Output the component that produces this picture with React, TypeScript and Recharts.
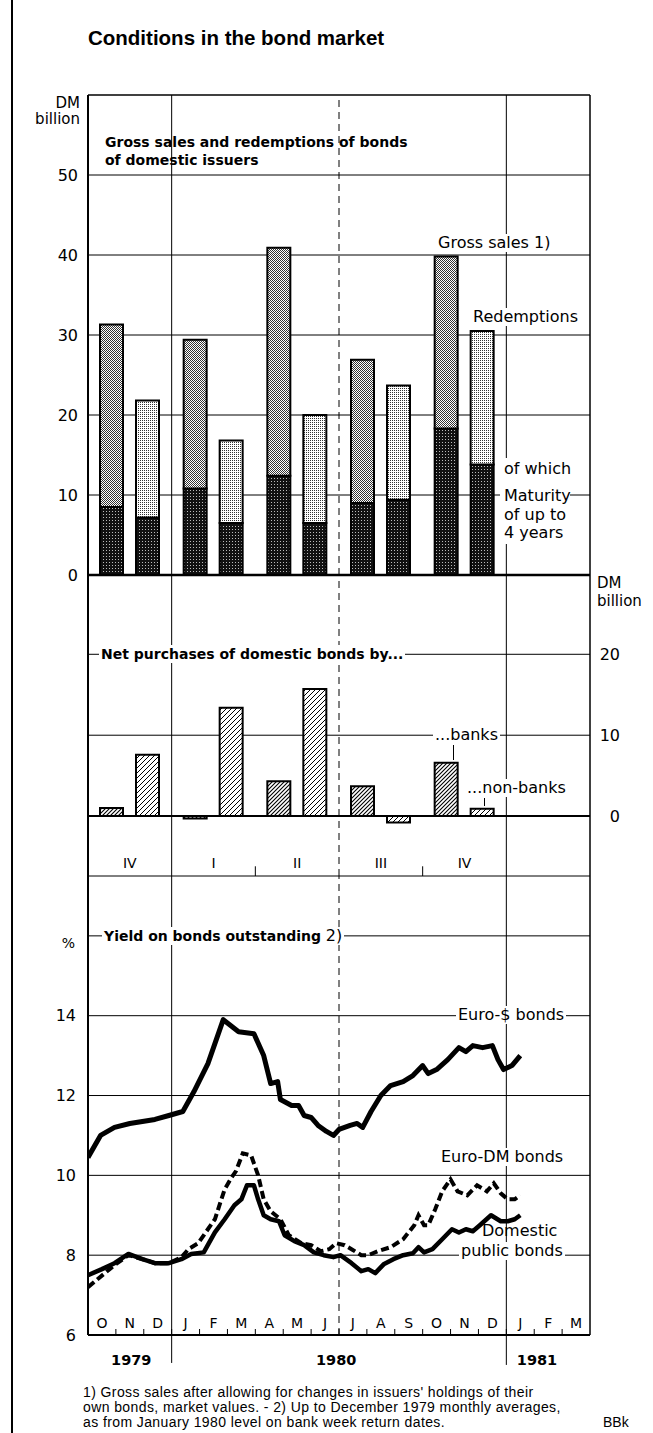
import React from "react";
import { BarChart, Bar, LineChart, Line, XAxis, YAxis, CartesianGrid, ReferenceLine } from "recharts";

const FONT = "'DejaVu Sans', sans-serif";
const W = 653;
const PLOT_LEFT = 88;
const PLOT_RIGHT = 590;

// quarters: IV 1979, I-IV 1980, I 1981 (empty); mid-quarter in months from 1 Oct 1979
const quarterLabels = ["IV", "I", "II", "III", "IV", ""];
const quarterMid = [1.5, 4.5, 7.5, 10.5, 13.5, 16.5];
const grossSales = [31.3, 29.4, 40.9, 26.9, 39.8, null];
const grossShortMaturity = [8.5, 10.8, 12.4, 9.0, 18.3, null];
const redemptions = [21.8, 16.8, 20.0, 23.7, 30.5, null];
const redemptionsShortMaturity = [7.2, 6.5, 6.5, 9.4, 13.8, null];
const netBanks = [1.0, -0.3, 4.3, 3.7, 6.6, null];
const netNonBanks = [7.6, 13.4, 15.7, -0.8, 0.9, null];

const monthLetters = ["O", "N", "D", "J", "F", "M", "A", "M", "J", "J", "A", "S", "O", "N", "D", "J", "F", "M"];
const yearLabels = ["1979", "1980", "1981"];
const yearMid = [1.55, 8.9, 16.1];

// time in months from 1 Oct 1979
const euroDollarMonth = [0, 0.45, 0.95, 1.5, 2.4, 2.9, 3.4, 3.8, 4.3, 4.75, 4.85, 5.4, 5.95, 6.3, 6.55, 6.8, 6.9, 7.3, 7.55, 7.75, 8.0, 8.25, 8.55, 8.8, 9.0, 9.4, 9.65, 9.85, 10.15, 10.5, 10.85, 11.3, 11.65, 12.0, 12.2, 12.5, 12.9, 13.3, 13.55, 13.8, 14.15, 14.5, 14.7, 14.9, 15.2, 15.5];
const euroDollarYield = [10.45, 11.0, 11.2, 11.3, 11.4, 11.5, 11.6, 12.1, 12.8, 13.7, 13.9, 13.6, 13.55, 13.0, 12.3, 12.35, 11.9, 11.75, 11.75, 11.5, 11.45, 11.25, 11.1, 11.0, 11.15, 11.25, 11.3, 11.2, 11.6, 12.0, 12.25, 12.35, 12.5, 12.75, 12.55, 12.65, 12.9, 13.2, 13.1, 13.25, 13.2, 13.25, 12.9, 12.65, 12.75, 13.0];

const euroDmMonth = [0, 0.95, 1.45, 1.95, 2.4, 2.9, 3.35, 3.6, 3.95, 4.55, 4.9, 5.15, 5.3, 5.55, 5.85, 6.1, 6.3, 6.55, 6.9, 7.2, 7.65, 8.0, 8.35, 8.65, 8.9, 9.2, 9.45, 9.8, 10.05, 10.4, 10.85, 11.3, 11.7, 11.85, 12.05, 12.2, 12.45, 12.7, 13.0, 13.25, 13.6, 13.95, 14.3, 14.55, 14.8, 15.05, 15.3, 15.5];
const euroDmYield = [7.2, 7.75, 8.0, 7.9, 7.8, 7.8, 7.95, 8.15, 8.3, 8.9, 9.65, 9.95, 10.1, 10.55, 10.5, 10.0, 9.4, 9.1, 8.9, 8.5, 8.3, 8.25, 8.1, 8.15, 8.3, 8.25, 8.15, 8.0, 8.0, 8.1, 8.2, 8.4, 8.75, 9.0, 8.75, 8.75, 9.15, 9.6, 9.9, 9.6, 9.5, 9.75, 9.6, 9.8, 9.55, 9.4, 9.4, 9.5];

const domesticMonth = [0, 0.5, 0.95, 1.45, 1.95, 2.4, 2.9, 3.35, 3.7, 4.15, 4.55, 4.9, 5.25, 5.5, 5.7, 5.95, 6.1, 6.3, 6.55, 6.85, 7.05, 7.4, 7.75, 8.1, 8.45, 8.8, 9.05, 9.45, 9.8, 10.05, 10.3, 10.6, 10.95, 11.3, 11.65, 11.85, 12.05, 12.35, 12.7, 13.05, 13.3, 13.55, 13.8, 14.05, 14.45, 14.8, 15.05, 15.3, 15.5];
const domesticYield = [7.5, 7.65, 7.8, 8.03, 7.9, 7.8, 7.8, 7.9, 8.03, 8.07, 8.57, 8.9, 9.25, 9.4, 9.75, 9.75, 9.4, 9.0, 8.9, 8.85, 8.5, 8.35, 8.25, 8.07, 8.0, 7.95, 8.0, 7.8, 7.6, 7.65, 7.55, 7.77, 7.9, 8.0, 8.05, 8.2, 8.07, 8.15, 8.4, 8.65, 8.57, 8.65, 8.6, 8.75, 9.0, 8.85, 8.85, 8.9, 9.0];

const rest = (total: number | null, part: number | null) =>
  total == null || part == null ? null : Math.round((total - part) * 100) / 100;

const barRows = quarterLabels.map((_, i) => ({
  mid: quarterMid[i],
  grossShort: grossShortMaturity[i],
  grossRest: rest(grossSales[i], grossShortMaturity[i]),
  redShort: redemptionsShortMaturity[i],
  redRest: rest(redemptions[i], redemptionsShortMaturity[i]),
  banks: netBanks[i],
  nonBanks: netNonBanks[i],
}));

const toSeries = (t: number[], v: number[]) => t.map((m, i) => ({ t: m, v: v[i] }));
const euroDollar = toSeries(euroDollarMonth, euroDollarYield);
const euroDm = toSeries(euroDmMonth, euroDmYield);
const domestic = toSeries(domesticMonth, domesticYield);

const monthCenters = monthLetters.map((_, i) => i + 0.5);
const monthBounds = monthLetters.slice(1).map((_, i) => i + 1);

const tickStyle = { fontSize: 16, fill: "#000", fontFamily: FONT };

function RightTick(props: any) {
  const { x, y, payload } = props;
  return (
    <text x={x + 22} y={y} textAnchor="end" dominantBaseline="central" fontSize={16} fontFamily={FONT} fill="#000">
      {payload.value}
    </text>
  );
}

function Note({ x, y, children, bold = false, size = 16, bg = true, right = false, h = 18 }: any) {
  const pos: any = right ? { right: W - x - 2 } : { left: x - 2 };
  return (
    <div
      style={{
        position: "absolute",
        ...pos,
        top: y - h / 2,
        height: h,
        lineHeight: `${h}px`,
        fontSize: size,
        fontWeight: bold ? 700 : 400,
        background: bg ? "#fff" : "transparent",
        padding: "0 2px",
        whiteSpace: "nowrap",
        fontFamily: FONT,
        textAlign: right ? "right" : "left",
      }}
    >
      {children}
    </div>
  );
}

function Tick({ x, y1, y2 }: any) {
  return <div style={{ position: "absolute", left: x, top: y1, width: 1, height: y2 - y1, background: "#000" }} />;
}

// vertical frame: borders, half-year lines, dashed mid-year line
function frameLines() {
  return [
    <ReferenceLine key="b0" x={0} stroke="#000" strokeWidth={2} />,
    <ReferenceLine key="b18" x={18} stroke="#000" strokeWidth={1.5} />,
    <ReferenceLine key="v3" x={3} stroke="#000" strokeWidth={1} />,
    <ReferenceLine key="v15" x={15} stroke="#000" strokeWidth={1} />,
    <ReferenceLine key="v9" x={9} stroke="#000" strokeWidth={1} strokeDasharray="7 5" />,
  ];
}

export default function App() {
  return (
    <div style={{ position: "relative", width: W, height: 1433, background: "#fff", fontFamily: FONT, color: "#000", overflow: "hidden" }}>
      <style>{"body{margin:0}"}</style>

      <div style={{ position: "absolute", left: 11, top: 0, width: 1.5, height: 1433, background: "#000" }} />

      <div style={{ position: "absolute", left: 88, top: 26, fontFamily: "'Liberation Sans', Arial, sans-serif", fontWeight: 700, fontSize: 20.5, lineHeight: "24px", whiteSpace: "nowrap" }}>
        Conditions in the bond market
      </div>

      {/* gross sales and redemptions */}
      <div style={{ position: "absolute", left: 0, top: 0 }}>
        <BarChart width={W} height={595} data={barRows} margin={{ top: 95, right: W - PLOT_RIGHT, bottom: 20, left: 0 }} barSize={23} barGap={13}>
          <defs>
            <pattern id="midDots" width="2" height="2" patternUnits="userSpaceOnUse">
              <rect width="2" height="2" fill="#fff" />
              <rect width="1" height="1" fill="#333" />
              <rect x="1" y="1" width="1" height="1" fill="#333" />
            </pattern>
            <pattern id="lightDots" width="2" height="2" patternUnits="userSpaceOnUse">
              <rect width="2" height="2" fill="#fff" />
              <rect width="1" height="1" fill="#333" />
            </pattern>
            <pattern id="darkDots" width="3" height="3" patternUnits="userSpaceOnUse">
              <rect width="3" height="3" fill="#111" />
              <rect x="1" y="1" width="1" height="1" fill="#bbb" />
            </pattern>
          </defs>
          <CartesianGrid stroke="#000" strokeWidth={1} vertical={false} horizontalValues={[10, 20, 30, 40, 50]} />
          <XAxis dataKey="mid" type="number" domain={[0, 18]} ticks={quarterMid} hide allowDataOverflow />
          <YAxis
            domain={[0, 60]}
            ticks={[0, 10, 20, 30, 40, 50]}
            interval={0}
            width={PLOT_LEFT}
            axisLine={false}
            tickLine={false}
            tickMargin={4}
            tick={tickStyle}
            allowDataOverflow
          />
          {frameLines()}
          <ReferenceLine y={60} stroke="#000" strokeWidth={1.5} />
          <Bar dataKey="grossShort" stackId="g" fill="url(#darkDots)" stroke="#000" strokeWidth={2} isAnimationActive={false} />
          <Bar dataKey="grossRest" stackId="g" fill="url(#midDots)" stroke="#000" strokeWidth={2} isAnimationActive={false} />
          <Bar dataKey="redShort" stackId="r" fill="url(#darkDots)" stroke="#000" strokeWidth={2} isAnimationActive={false} />
          <Bar dataKey="redRest" stackId="r" fill="url(#lightDots)" stroke="#000" strokeWidth={2} isAnimationActive={false} />
          <ReferenceLine y={0} stroke="#000" strokeWidth={2.5} />
        </BarChart>
      </div>

      {/* net purchases */}
      <div style={{ position: "absolute", left: 0, top: 570 }}>
        <BarChart width={W} height={311} data={barRows} margin={{ top: 5, right: 0, bottom: 5, left: PLOT_LEFT }} barSize={23} barGap={13}>
          <defs>
            <pattern id="hatchBanks" width="4" height="4" patternUnits="userSpaceOnUse">
              <rect width="4" height="4" fill="#fff" />
              <path d="M-1,1 L1,-1 M0,4 L4,0 M3,5 L5,3" stroke="#000" strokeWidth={1.1} />
            </pattern>
            <pattern id="hatchNonBanks" width="5" height="5" patternUnits="userSpaceOnUse">
              <rect width="5" height="5" fill="#fff" />
              <path d="M-1,1 L1,-1 M0,5 L5,0 M4,6 L6,4" stroke="#000" strokeWidth={1} />
            </pattern>
          </defs>
          <CartesianGrid stroke="#000" strokeWidth={1} vertical={false} horizontalValues={[10, 20]} />
          <XAxis
            dataKey="mid"
            type="number"
            domain={[0, 18]}
            ticks={quarterMid}
            interval={0}
            mirror
            height={1}
            stroke="#000"
            tickLine={false}
            tickSize={6}
            tickMargin={2}
            tickFormatter={(v: number) => quarterLabels[quarterMid.indexOf(v)]}
            tick={{ fontSize: 14, fill: "#000", fontFamily: FONT }}
            allowDataOverflow
          />
          <YAxis orientation="right" width={W - PLOT_RIGHT} domain={[-7.4, 29.8]} ticks={[0, 10, 20]} interval={0} axisLine={false} tickLine={false} tick={<RightTick />} allowDataOverflow />
          {frameLines()}
          <ReferenceLine segment={[{ x: 6, y: -7.4 }, { x: 6, y: -6.2 }]} stroke="#000" />
          <ReferenceLine segment={[{ x: 12, y: -7.4 }, { x: 12, y: -6.2 }]} stroke="#000" />
          <Bar dataKey="banks" fill="url(#hatchBanks)" stroke="#000" strokeWidth={2} isAnimationActive={false} />
          <Bar dataKey="nonBanks" fill="url(#hatchNonBanks)" stroke="#000" strokeWidth={2} isAnimationActive={false} />
          <ReferenceLine y={0} stroke="#000" strokeWidth={2} />
        </BarChart>
      </div>

      {/* yields */}
      <div style={{ position: "absolute", left: 0, top: 870 }}>
        <LineChart width={W} height={505} data={domestic} margin={{ top: 6, right: W - PLOT_RIGHT, bottom: 0, left: 0 }}>
          <CartesianGrid stroke="#000" strokeWidth={1} vertical={false} horizontalValues={[8, 10, 12, 14, 16]} />
          <XAxis
            dataKey="t"
            type="number"
            domain={[0, 18]}
            ticks={monthBounds}
            interval={0}
            mirror
            height={1}
            stroke="#000"
            axisLine={{ stroke: "#000", strokeWidth: 2 }}
            tickSize={6}
            tickFormatter={() => ""}
            allowDataOverflow
          />
          <XAxis
            xAxisId="m"
            dataKey="t"
            type="number"
            domain={[0, 18]}
            ticks={monthCenters}
            interval={0}
            mirror
            height={1}
            axisLine={false}
            tickLine={false}
            tickSize={5}
            tickMargin={1}
            tickFormatter={(v: number) => monthLetters[Math.floor(v)]}
            tick={{ fontSize: 14, fill: "#000", fontFamily: FONT }}
            allowDataOverflow
          />
          <XAxis
            xAxisId="yr"
            dataKey="t"
            type="number"
            domain={[0, 18]}
            ticks={yearMid}
            interval={0}
            height={40}
            axisLine={false}
            tickLine={false}
            tickMargin={14}
            tickFormatter={(v: number) => yearLabels[yearMid.indexOf(v)]}
            tick={{ fontSize: 14.5, fontWeight: 700, fill: "#000", fontFamily: FONT }}
            allowDataOverflow
          />
          <YAxis
            domain={[6, 17.5]}
            ticks={[6, 8, 10, 12, 14]}
            interval={0}
            width={PLOT_LEFT}
            axisLine={false}
            tickLine={false}
            tickMargin={6}
            tick={tickStyle}
            allowDataOverflow
          />
          {frameLines()}
          <ReferenceLine segment={[{ x: 3, y: 6 }, { x: 3, y: 5.3 }]} stroke="#000" ifOverflow="visible" />
          <ReferenceLine segment={[{ x: 15, y: 6 }, { x: 15, y: 5.25 }]} stroke="#000" ifOverflow="visible" />
          <Line data={euroDm} dataKey="v" type="linear" stroke="#000" strokeWidth={4} strokeDasharray="8 4" dot={false} isAnimationActive={false} />
          <Line data={domestic} dataKey="v" type="linear" stroke="#000" strokeWidth={4.5} strokeLinejoin="round" dot={false} isAnimationActive={false} />
          <Line data={euroDollar} dataKey="v" type="linear" stroke="#000" strokeWidth={5} strokeLinejoin="round" dot={false} isAnimationActive={false} />
        </LineChart>
      </div>

      {/* top panel texts */}
      <Note x={80} y={103} right bg={false} size={15}>DM</Note>
      <Note x={80} y={119} right bg={false} size={15}>billion</Note>
      <Note x={105} y={142} bold size={14} bg={false}>Gross sales and redemptions of bonds</Note>
      <Note x={105} y={160} bold size={14} bg={false}>of domestic issuers</Note>
      <Note x={438} y={243}>Gross sales 1)</Note>
      <Note x={473} y={317}>Redemptions</Note>
      <div style={{ position: "absolute", left: 500, top: 458, width: 70, height: 86, background: "#fff", fontSize: 16, whiteSpace: "nowrap" }}>
        <div style={{ position: "absolute", left: 4, top: 0, lineHeight: "22px" }}>of which</div>
        <div style={{ position: "absolute", left: 4, top: 29, lineHeight: "18px" }}>Maturity</div>
        <div style={{ position: "absolute", left: 4, top: 48, lineHeight: "18px" }}>of up to</div>
        <div style={{ position: "absolute", left: 4, top: 66, lineHeight: "18px" }}>4 years</div>
      </div>

      {/* middle panel texts */}
      <Note x={597} y={583} bg={false} size={15}>DM</Note>
      <Note x={597} y={601} bg={false} size={15}>billion</Note>
      <Note x={101} y={654} bold size={14}>Net purchases of domestic bonds by...</Note>
      <Note x={435} y={735}>...banks</Note>
      <Tick x={453} y1={745} y2={760} />
      <Note x={467} y={788}>...non-banks</Note>
      <Tick x={484} y1={798} y2={806} />

      {/* yield panel texts */}
      <Note x={75} y={943} right bg={false} size={14}>%</Note>
      <Note x={104} y={936} bold size={14}>
        Yield on bonds outstanding <span style={{ fontWeight: 400, fontSize: 16 }}>2)</span>
      </Note>
      <Note x={458} y={1015}>Euro-$ bonds</Note>
      <Note x={441} y={1157}>Euro-DM bonds</Note>
      <Note x={482} y={1231} bg={false}>Domestic</Note>
      <Note x={461} y={1251}>public bonds</Note>

      {/* footnotes */}
      <div style={{ position: "absolute", left: 83, top: 1385, fontFamily: "'Liberation Sans', Arial, sans-serif", fontSize: 14, letterSpacing: 0.4, lineHeight: "15px", whiteSpace: "nowrap" }}>
        <div>1) Gross sales after allowing for changes in issuers' holdings of their</div>
        <div>own bonds, market values. - 2) Up to December 1979 monthly averages,</div>
        <div>as from January 1980 level on bank week return dates.</div>
      </div>
      <div style={{ position: "absolute", left: 603, top: 1415, fontFamily: "'Liberation Sans', Arial, sans-serif", fontSize: 14, lineHeight: "15px" }}>BBk</div>
    </div>
  );
}
